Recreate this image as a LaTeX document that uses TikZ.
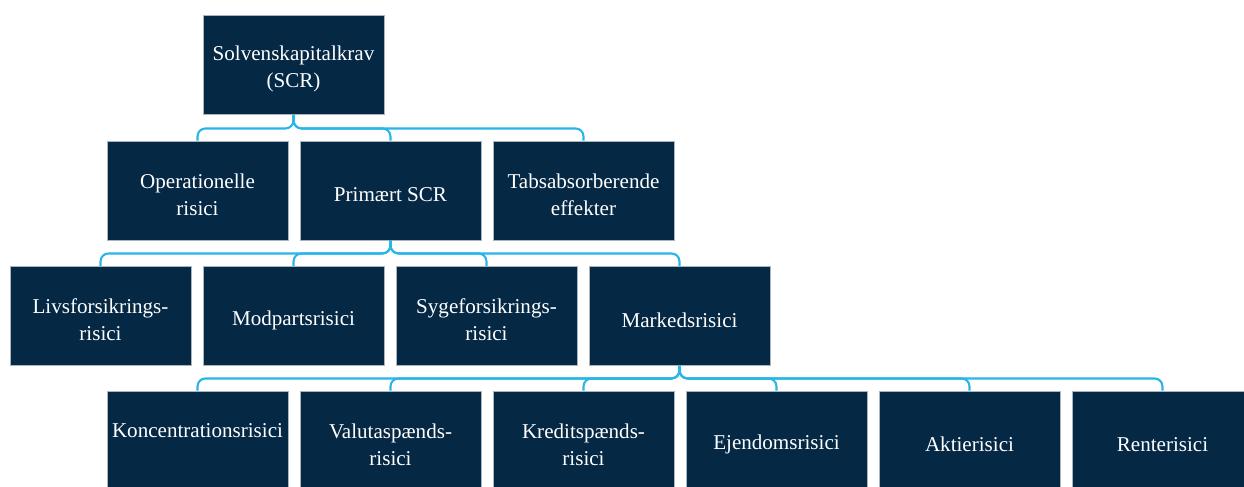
\documentclass[tikz,border=0pt]{standalone}
\usepackage{fontspec}
\setmainfont{Liberation Serif}
\definecolor{navy}{RGB}{5,40,69}
\definecolor{cyanline}{RGB}{40,182,230}
\definecolor{edgegray}{RGB}{170,180,190}
\tikzset{
  box/.style={rectangle, fill=navy, draw=edgegray, line width=0.5pt,
    minimum width=3.62cm, minimum height=1.98cm, inner sep=0pt},
  txt/.style={text=white, align=center, inner sep=0pt,
    font=\fontsize{12}{15.5}\selectfont},
  conn/.style={draw=cyanline, line width=1.2pt, rounded corners=0.16cm}
}
\newcommand\bx[3]{%
  \node[box] (#1) at (#2) {};
  \node[txt] (#1t) at ([yshift=-0.08cm]#1.center) {#3};}
\begin{document}
\begin{tikzpicture}
\useasboundingbox (0,0) rectangle (24.88,-9.72);
\clip (0,0) rectangle (24.88,-9.72);
% row 1
\bx{scr}{5.87,-1.30}{Solvenskapitalkrav\\(SCR)}
% row 2
\bx{op}{3.95,-3.81}{Operationelle\\risici}
\bx{prim}{7.81,-3.81}{Primært SCR}
\bx{tab}{11.67,-3.81}{Tabsabsorberende\\effekter}
% row 3
\bx{liv}{2.01,-6.32}{Livsforsikrings-\\risici}
\bx{mod}{5.87,-6.32}{Modpartsrisici}
\bx{syg}{9.73,-6.32}{Sygeforsikrings-\\risici}
\bx{mark}{13.59,-6.32}{Markedsrisici}
% row 4
\bx{kon}{3.95,-8.81}{Koncentrationsrisici\\\phantom{x}}
\bx{val}{7.81,-8.81}{Valutaspænds-\\risici}
\bx{kred}{11.67,-8.81}{Kreditspænds-\\risici}
\bx{ejd}{15.53,-8.81}{Ejendomsrisici}
\bx{akt}{19.39,-8.81}{Aktierisici}
\bx{ren}{23.25,-8.81}{Renterisici}
% connectors
\foreach \c in {op,prim,tab}
  \draw[conn] (scr.south) -- ++(0,-0.27) -| (\c.north);
\foreach \c in {liv,mod,syg,mark}
  \draw[conn] (prim.south) -- ++(0,-0.26) -| (\c.north);
\foreach \c in {kon,val,kred,ejd,akt,ren}
  \draw[conn] (mark.south) -- ++(0,-0.25) -| (\c.north);
\end{tikzpicture}
\end{document}
